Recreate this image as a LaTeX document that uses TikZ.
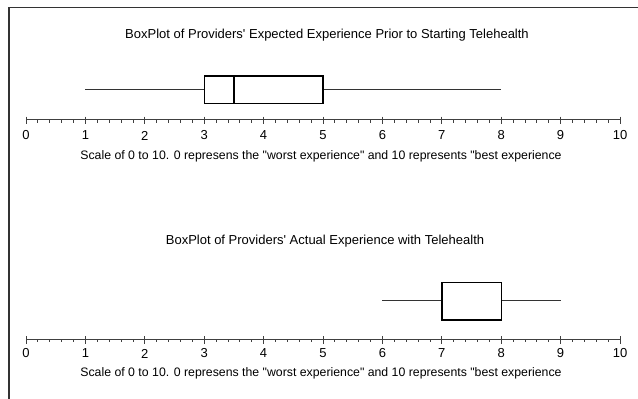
\documentclass[tikz,border=0pt]{standalone}
\usepackage{fontspec}
\newfontfamily\plotfont{Liberation Sans}
\begin{document}
\begin{tikzpicture}[x=1pt,y=-1pt,
  axisline/.style={draw=black!75,line width=1pt},
  boxline/.style={draw=black,line width=1.4pt},
  whisker/.style={draw=black!80,line width=1.5pt},
  framel/.style={draw=black!80,line width=1.5pt},
  ticklabel/.style={font=\plotfont\fontsize{13}{15}\selectfont,anchor=center,inner sep=0pt},
  titletext/.style={font=\plotfont\fontsize{13}{15}\selectfont,anchor=center,inner sep=0pt},
  captext/.style={font=\plotfont\fontsize{12.3}{14}\selectfont,anchor=center,inner sep=0pt}]
\useasboundingbox[fill=white] (0,0) rectangle (638,399);
% outer frame (left and top edges)
\draw[framel] (9,399) -- (9,7.5) -- (638,7.5);
% value -> x position
\def\ux{59.4}
\def\ox{26}
% ---------- upper plot ----------
\node[titletext] (t1) at (327,35) {BoxPlot of Providers' Expected Experience Prior to Starting Telehealth};
\draw[axisline] (\ox,119.5) -- ({\ox+10*\ux},119.5);
\foreach \i in {0,...,50} {
  \draw[axisline,line width=0.8pt] ({\ox+\i*\ux/5},119.5) -- ({\ox+\i*\ux/5},122.5);
}
\foreach \v in {0,...,10} {
  \draw[axisline] ({\ox+\v*\ux},116.5) -- ({\ox+\v*\ux},124);
  \node[ticklabel] (a\v) at ({\ox+\v*\ux},135.5) {\v};
}
\node[captext] (c1) at (321,156.5) {Scale of 0 to 10. 0 represens the "worst experience" and 10 represents "best experience};
\draw[whisker] ({\ox+1*\ux},89.5) -- ({\ox+3*\ux},89.5);
\draw[whisker] ({\ox+5*\ux},89.5) -- ({\ox+8*\ux},89.5);
\draw[boxline] ({\ox+3*\ux},76) rectangle ({\ox+5*\ux},103.5);
\draw[boxline] ({\ox+3.5*\ux},76) -- ({\ox+3.5*\ux},103.5);
% ---------- lower plot ----------
\node[titletext] (t2) at (325,241) {BoxPlot of Providers' Actual Experience with Telehealth};
\draw[axisline] (\ox,339) -- ({\ox+10*\ux},339);
\foreach \i in {0,...,50} {
  \draw[axisline,line width=0.8pt] ({\ox+\i*\ux/5},339) -- ({\ox+\i*\ux/5},342);
}
\foreach \v in {0,...,10} {
  \draw[axisline] ({\ox+\v*\ux},336) -- ({\ox+\v*\ux},343.5);
  \node[ticklabel] (b\v) at ({\ox+\v*\ux},353.5) {\v};
}
\node[captext] (c2) at (321,373) {Scale of 0 to 10. 0 represens the "worst experience" and 10 represents "best experience};
\draw[whisker] ({\ox+6*\ux},300.5) -- ({\ox+7*\ux},300.5);
\draw[whisker] ({\ox+8*\ux},300.5) -- ({\ox+9*\ux},300.5);
\draw[boxline] ({\ox+7*\ux},282.5) rectangle ({\ox+8*\ux},320);
\end{tikzpicture}
\end{document}
